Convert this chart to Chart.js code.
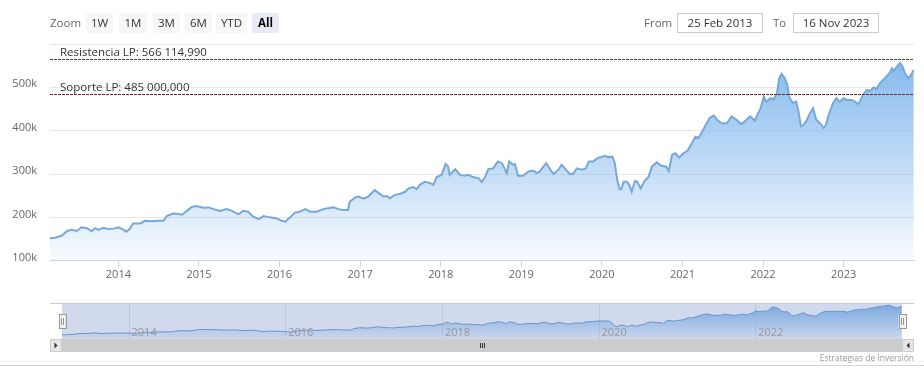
<!DOCTYPE html>
<html>
<head>
<meta charset="utf-8">
<script src="https://cdn.jsdelivr.net/npm/chart.js@4.4.1/dist/chart.umd.min.js"></script>
<style>
  body{margin:0;width:924px;height:379px;position:relative;background:#fff;overflow:hidden;font-family:'Open Sans',sans-serif}
  .abs{position:absolute}
  .btn{position:absolute;top:13px;height:20px;line-height:20px;background:#f7f7f7;color:#333;font-size:11.5px;text-align:center;border-radius:2px}
  .btn.sel{background:#e6ebf5;color:#000;font-weight:bold}
  .lbl{position:absolute;top:13px;line-height:20px;color:#666;font-size:11.5px}
  .inp{position:absolute;top:13px;height:18px;line-height:18px;border:1px solid #ccc;color:#333;font-size:11.5px;text-align:center}
</style>
</head>
<body>
<canvas id="main" class="abs" style="left:0;top:0" width="924" height="290"></canvas>
<canvas id="nav" class="abs" style="left:0;top:290px" width="924" height="70"></canvas>

<div class="lbl" style="left:50px">Zoom</div>
<div class="btn" style="left:86px;width:27px">1W</div>
<div class="btn" style="left:119px;width:28px">1M</div>
<div class="btn" style="left:153px;width:27px">3M</div>
<div class="btn" style="left:185px;width:27px">6M</div>
<div class="btn" style="left:216px;width:31px">YTD</div>
<div class="btn sel" style="left:252px;width:27px">All</div>

<div class="lbl" style="left:644px">From</div>
<div class="inp" style="left:677px;width:84px">25 Feb 2013</div>
<div class="lbl" style="left:773px">To</div>
<div class="inp" style="left:793px;width:84px">16 Nov 2023</div>

<div class="abs" style="right:10px;top:352px;font-size:8.5px;color:#999">Estrategias de Inversión</div>
<div class="abs" style="left:0;top:361px;width:924px;height:1px;background:#f2f2f2"></div>
<div class="abs" style="left:0;top:365px;width:924px;height:1px;background:#d6d6d6"></div>

<script>
/* ================= Datos ================= */
// año decimal (25 feb 2013 -> 16 nov 2023), valores en miles
const years = [
  2013.15,2013.21,2013.30,2013.36,2013.42,2013.48,2013.54,2013.61,2013.67,2013.71,2013.75,2013.81,2013.87,2013.94,
  2014.00,2014.05,2014.10,2014.14,2014.18,2014.27,2014.33,2014.41,2014.49,2014.56,2014.60,2014.68,2014.74,2014.79,2014.85,2014.91,2014.97,
  2015.05,2015.12,2015.18,2015.26,2015.34,2015.41,2015.49,2015.55,2015.61,2015.67,2015.74,2015.80,2015.88,2015.96,
  2016.03,2016.07,2016.13,2016.19,2016.25,2016.32,2016.38,2016.46,2016.54,2016.60,2016.67,2016.73,2016.79,2016.85,2016.87,2016.94,2016.98,
  2017.04,2017.10,2017.18,2017.23,2017.29,2017.33,2017.37,2017.43,2017.49,2017.56,2017.60,2017.66,2017.70,2017.74,2017.80,2017.87,2017.91,2017.95,
  2018.01,2018.06,2018.09,2018.11,2018.18,2018.24,2018.30,2018.34,2018.40,2018.47,2018.51,2018.55,2018.59,2018.65,2018.71,2018.76,2018.82,2018.85,2018.90,2018.92,2018.96,
  2019.02,2019.09,2019.15,2019.19,2019.23,2019.27,2019.31,2019.36,2019.40,2019.46,2019.50,2019.54,2019.60,2019.64,2019.69,2019.75,2019.80,2019.84,2019.89,2019.95,
  2020.04,2020.08,2020.13,2020.16,2020.19,2020.22,2020.24,2020.27,2020.31,2020.34,2020.37,2020.41,2020.44,2020.48,2020.53,2020.58,2020.62,2020.68,2020.74,2020.80,2020.83,2020.87,2020.91,2020.96,
  2021.01,2021.06,2021.11,2021.16,2021.20,2021.25,2021.30,2021.34,2021.39,2021.44,2021.49,2021.55,2021.61,2021.67,2021.73,2021.78,2021.84,2021.90,2021.93,2021.97,
  2022.01,2022.04,2022.09,2022.13,2022.17,2022.20,2022.23,2022.27,2022.30,2022.33,2022.37,2022.41,2022.44,2022.47,2022.50,2022.54,2022.58,2022.62,2022.66,2022.71,2022.75,2022.78,2022.82,2022.87,2022.91,2022.95,
  2023.00,2023.04,2023.10,2023.15,2023.18,2023.21,2023.24,2023.29,2023.33,2023.37,2023.41,2023.45,2023.51,2023.57,2023.60,2023.62,2023.67,2023.70,2023.73,2023.76,2023.80,2023.83,2023.87
];
const values = [
  152,153,158,168,172,168,177,175,168,175,171,176,173,174,
  177,173,167,173,186,186,192,191,192,192,203,209,208,206,215,224,226,
  222,223,219,215,219,215,207,215,213,202,196,203,200,198,
  192,190,200,211,213,219,213,213,219,221,223,219,217,217,236,246,248,
  243,248,263,256,248,249,244,252,254,259,267,270,265,275,282,279,275,293,
  298,323,318,298,311,298,296,298,293,290,282,293,311,313,329,325,302,329,321,323,296,
  296,306,308,302,306,316,325,310,300,310,321,313,300,300,313,310,313,329,329,337,
  342,339,340,325,286,265,265,282,282,275,259,284,282,267,284,294,317,327,319,317,307,344,348,338,
  348,353,369,386,383,400,417,430,435,423,417,417,433,425,415,423,433,423,437,452,
  479,467,475,472,484,521,531,521,506,475,464,467,444,410,413,423,440,452,425,417,406,413,440,464,475,467,
  475,471,471,466,461,471,483,494,492,500,497,510,521,533,544,538,550,556,548,533,521,527,540
];
const yearTicks = [2014,2015,2016,2017,2018,2019,2020,2021,2022,2023];
const navYearTicks = [2014,2016,2018,2020,2022];
const valueTicks = [100,200,300,400,500,600];
const resistencia = 566.11499;
const soporte = 485;
const refLabels = ['Resistencia LP: 566 114,990', 'Soporte LP: 485 000,000'];

const X_MIN = 2013.151, X_MAX = 2023.873;
const serie = years.map((x,i)=>({x, y: values[i]}));
const FONT = "'Open Sans', sans-serif";

function areaFill(ctx){
  const a = ctx.chart.chartArea;
  if(!a) return 'rgba(124,181,236,0.4)';
  const g = ctx.chart.ctx.createLinearGradient(0, a.top, 0, a.bottom);
  g.addColorStop(0, 'rgba(124,181,236,1)');
  g.addColorStop(1, 'rgba(124,181,236,0.06)');
  return g;
}

/* ================= Líneas de soporte / resistencia ================= */
const plotLines = {
  id: 'plotLines',
  afterDatasetsDraw(chart){
    const { ctx, chartArea: a, scales: { y } } = chart;
    const defs = [
      { v: resistencia, txt: refLabels[0], color: '#2f4f2f' },
      { v: soporte, txt: refLabels[1], color: '#8b1a1a' }
    ];
    ctx.save();
    defs.forEach(d => {
      const py = Math.round(y.getPixelForValue(d.v)) + 0.5;
      ctx.strokeStyle = d.color; ctx.lineWidth = 1; ctx.setLineDash([3,1]);
      ctx.beginPath(); ctx.moveTo(a.left, py); ctx.lineTo(a.right, py); ctx.stroke();
      ctx.setLineDash([]);
      ctx.fillStyle = '#333'; ctx.font = `11.5px ${FONT}`; ctx.textBaseline = 'alphabetic';
      ctx.fillText(d.txt, a.left + 10, py - 4);
    });
    ctx.restore();
  }
};

new Chart(document.getElementById('main'), {
  type: 'line',
  data: { datasets: [{
    data: serie,
    borderColor: '#76a8da',
    borderWidth: 2,
    backgroundColor: areaFill,
    fill: 'start',
    pointRadius: 0,
    tension: 0
  }]},
  options: {
    responsive: false, animation: false,
    layout: { padding: { top: 44, right: 10, left: 0, bottom: 0 } },
    plugins: { legend: { display: false }, tooltip: { enabled: false } },
    scales: {
      x: {
        type: 'linear', min: X_MIN, max: X_MAX,
        afterBuildTicks: s => { s.ticks = yearTicks.map(v => ({ value: v })); },
        afterFit: s => { s.height = 29.3; },
        grid: { drawOnChartArea: false, drawTicks: true, tickLength: 6, color: '#ccd6eb' },
        border: { color: '#ccd6eb' },
        ticks: { color: '#666', font: { family: FONT, size: 11 }, maxRotation: 0, autoSkip: false, padding: 2,
                 callback: v => String(v) }
      },
      y: {
        min: 100, max: 600,
        afterBuildTicks: s => { s.ticks = valueTicks.map(v => ({ value: v })); },
        afterFit: s => { s.width = 50; },
        grid: { color: '#e6e6e6', drawTicks: false },
        border: { display: false },
        ticks: { color: '#666', font: { family: FONT, size: 11 }, padding: 13, labelOffset: -3,
                 callback: v => v === 600 ? '' : v + 'k' }
      }
    }
  },
  plugins: [plotLines]
});

/* ================= Navegador + scrollbar ================= */
const navDecor = {
  id: 'navDecor',
  beforeDatasetsDraw(chart){
    const { ctx, chartArea: a, scales: { x } } = chart;
    ctx.save();
    ctx.strokeStyle = '#e6e6e6'; ctx.lineWidth = 1;
    navYearTicks.forEach(t => {
      const px = Math.round(x.getPixelForValue(t)) + 0.5;
      ctx.beginPath(); ctx.moveTo(px, a.top); ctx.lineTo(px, a.bottom); ctx.stroke();
    });
    ctx.restore();
  },
  afterDatasetsDraw(chart){
    const { ctx, chartArea: a, scales: { x } } = chart;
    ctx.save();
    // mascara (todo seleccionado)
    ctx.fillStyle = 'rgba(102,133,194,0.3)';
    ctx.fillRect(a.left, a.top, a.right - a.left, a.bottom - a.top);
    // etiquetas de años
    ctx.fillStyle = '#999'; ctx.font = `11px ${FONT}`; ctx.textBaseline = 'middle';
    navYearTicks.forEach(t => ctx.fillText(String(t), x.getPixelForValue(t) + 3, a.bottom - 6));
    // contorno
    ctx.strokeStyle = '#cccccc';
    ctx.beginPath(); ctx.moveTo(50, a.top + 0.5); ctx.lineTo(914, a.top + 0.5); ctx.stroke();
    // scrollbar
    const sy = a.bottom, sh = 13;
    ctx.fillStyle = '#f2f2f2'; ctx.fillRect(50, sy, 864, sh);
    ctx.fillStyle = '#cccccc'; ctx.fillRect(a.left, sy, a.right - a.left, sh);
    [[50, -1], [902, 1]].forEach(([bx, dir]) => {
      ctx.fillStyle = '#e6e6e6'; ctx.fillRect(bx, sy, 12, sh);
      ctx.strokeStyle = '#cccccc'; ctx.strokeRect(bx + 0.5, sy + 0.5, 11, sh - 1);
      ctx.fillStyle = '#333'; ctx.beginPath();
      const cx = bx + 6, cy = sy + sh / 2;
      ctx.moveTo(cx - 1.5 * dir, cy); ctx.lineTo(cx + 1.5 * dir, cy - 3); ctx.lineTo(cx + 1.5 * dir, cy + 3);
      ctx.closePath(); ctx.fill();
    });
    const gx = Math.round((a.left + a.right) / 2);
    ctx.strokeStyle = '#333';
    [-2, 0, 2].forEach(o => {
      ctx.beginPath(); ctx.moveTo(gx + o + 0.5, sy + 4); ctx.lineTo(gx + o + 0.5, sy + 9); ctx.stroke();
    });
    // manejadores
    [a.left, a.right].forEach(hx => {
      const hy = Math.round((a.top + a.bottom) / 2) - 7;
      ctx.fillStyle = '#f2f2f2'; ctx.fillRect(hx - 3.5, hy, 7, 15);
      ctx.strokeStyle = '#999'; ctx.strokeRect(Math.round(hx - 3) + 0.5, hy + 0.5, 7, 14);
      ctx.beginPath();
      ctx.moveTo(Math.round(hx) - 0.5, hy + 4); ctx.lineTo(Math.round(hx) - 0.5, hy + 11);
      ctx.moveTo(Math.round(hx) + 1.5, hy + 4); ctx.lineTo(Math.round(hx) + 1.5, hy + 11);
      ctx.stroke();
    });
    ctx.restore();
  }
};

new Chart(document.getElementById('nav'), {
  type: 'line',
  data: { datasets: [{
    data: serie,
    borderColor: '#6b98d0',
    borderWidth: 1,
    backgroundColor: areaFill,
    fill: 'start',
    pointRadius: 0,
    tension: 0
  }]},
  options: {
    responsive: false, animation: false,
    layout: { padding: { top: 13, right: 22, left: 62, bottom: 21 } },
    plugins: { legend: { display: false }, tooltip: { enabled: false } },
    scales: {
      x: { type: 'linear', min: X_MIN, max: X_MAX, display: false },
      y: { min: 95, max: 585, display: false }
    }
  },
  plugins: [navDecor]
});
</script>
</body>
</html>
